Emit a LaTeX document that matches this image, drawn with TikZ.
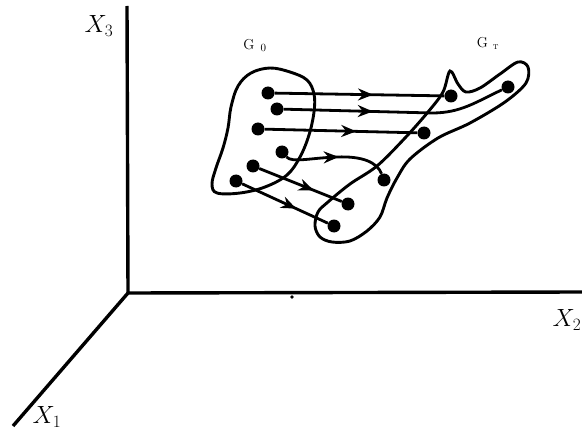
\documentclass[tikz,border=0pt]{standalone}
\usetikzlibrary{arrows.meta,decorations.markings}
\tikzset{
  dot/.style={circle, fill=black, inner sep=0pt, minimum size=13pt},
  traj/.style={line width=2.8pt},
  region/.style={line width=2.9pt},
  axis/.style={line width=3.4pt},
  flowarrow/.style={postaction={decorate},
    decoration={markings, mark=at position #1 with {\arrow{Stealth[length=15pt,width=12pt]}}}},
}

\begin{document}
\begin{tikzpicture}[x=1pt, y=-1pt]
\useasboundingbox (0,0) rectangle (582,436);

% Axes
\coordinate (O) at (128,293);
\coordinate (x3end) at (127,6);
\coordinate (x2end) at (582,292);
\coordinate (x1end) at (13,426);
\draw[axis] (x3end) -- (O) -- (x2end);
\draw[axis] (O) -- (x1end);
\node[font=\fontsize{24}{28}\selectfont] (x3) at (99,26) {$X_3$};
\node[font=\fontsize{24}{28}\selectfont] (x2) at (567,320) {$X_2$};
\node[font=\fontsize{24}{28}\selectfont] (x1) at (47,417) {$X_1$};
\fill (292,297) circle (1.8);

% Region G_0
\draw[region] plot[smooth cycle, tension=0.6] coordinates {
  (270,68) (290,72) (307,80) (314,94) (314,112) (309,135) (300,157)
  (287,175) (265,187) (240,193) (217,193) (212,184) (216,168)
  (223,148) (228,128) (231,107) (238,86) (251,73)};
\node[font=\fontsize{15}{17}\selectfont] (g0) at (255,46) {$\mathrm{G}_{\hspace{6pt}0}$};

% Region G_T
\draw[region] plot[smooth cycle, tension=0.55] coordinates {
  (450,71) (458,84) (466,92) (480,88) (500,74) (518,62) (528,67)
  (526,83) (505,102) (470,123) (438,138) (410,159) (397,178)
  (387,198) (380,217) (367,231) (350,241) (332,242) (320,237)
  (315,226) (318,212) (328,202) (350,184) (377,166) (405,138)
  (428,112) (443,92)};
\node[font=\fontsize{15}{17}\selectfont] (gT) at (488,44) {$\mathrm{G}_{\hspace{5pt}\scriptscriptstyle\mathrm{T}}$};

% Points at time 0 and at time T
\foreach \n/\x/\y in {1/268/93, 2/277/109, 3/258/129, 4/282/152, 5/253/166, 6/236/181}
  \node[dot] (a\n) at (\x,\y) {};
\foreach \n/\x/\y in {1/451/96, 2/508/87, 3/424/133, 4/384/180, 5/348/204, 6/334/226}
  \node[dot] (b\n) at (\x,\y) {};

% Trajectories
\draw[traj, flowarrow=0.58] (a1) -- (b1);
\draw[traj, flowarrow=0.40] (a2) -- (432,113) to[out=0, in=-155] (b2);
\draw[traj, flowarrow=0.60] (a3) -- (b3);
\draw[traj, flowarrow=0.52] (a4) .. controls (292,163) and (310,158) .. (337,157)
  .. controls (362,156) and (377,162) .. (b4);
\draw[traj, flowarrow=0.66] (a5) -- (b5);
\draw[traj, flowarrow=0.63] (a6) -- (b6);
\end{tikzpicture}
\end{document}
